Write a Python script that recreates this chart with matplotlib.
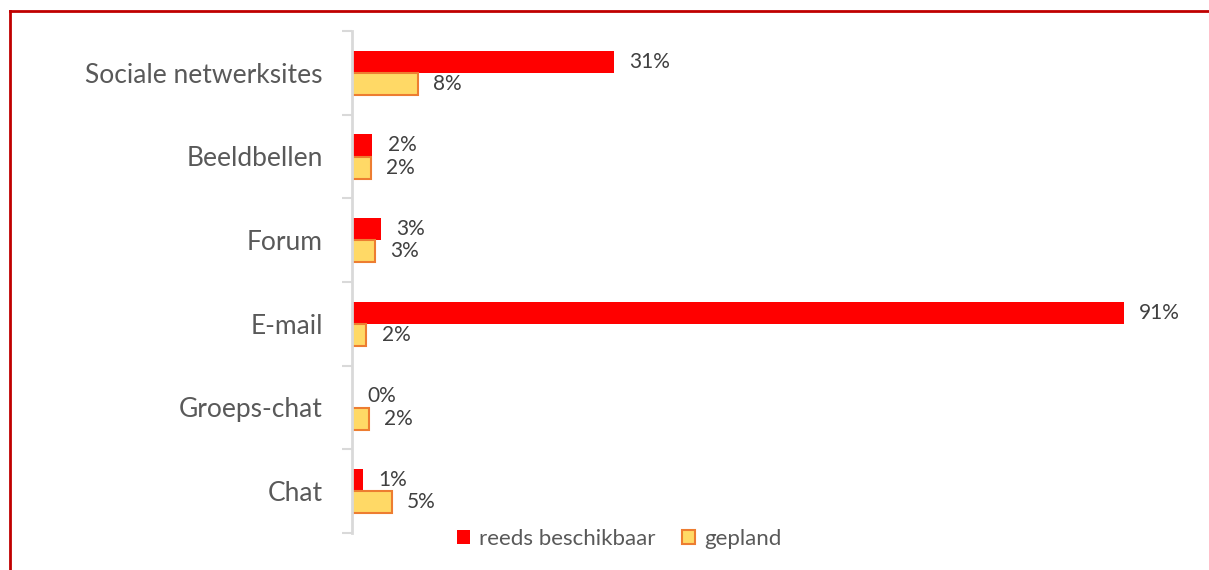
import matplotlib
matplotlib.use("Agg")
from matplotlib import pyplot as plt
from matplotlib.lines import Line2D
import numpy as np

categories = ["Sociale netwerksites", "Beeldbellen", "Forum", "E-mail", "Groeps-chat", "Chat"]
reeds = [30.9, 2.4, 3.4, 91.0, 0.0, 1.3]
gepland = [7.8, 2.2, 2.7, 1.7, 2.0, 4.7]
series_names = ["reeds beschikbaar", "gepland"]

plt.rcParams['font.family'] = ['Lato', 'DejaVu Sans']

fig = plt.figure(figsize=(12.09, 5.70), dpi=100)
ax = fig.add_axes([352/1209, 37/570, 848/1209, 502/570])

y = np.arange(len(categories))
h = 0.263
b1 = ax.barh(y - h/2, reeds, height=h, color="#FF0000", label=series_names[0])
b2 = ax.barh(y + h/2, gepland, height=h, color="#FFD966", edgecolor="#ED7D31",
             linewidth=1.5, label=series_names[1])

for bars, vals in ((b1, reeds), (b2, gepland)):
    for bar, v in zip(bars, vals):
        ax.annotate(f"{v:.0f}%", (bar.get_width(), bar.get_y() + bar.get_height()/2),
                    xytext=(11, 0), textcoords="offset points", ha="left", va="center",
                    fontsize=15, color="#404040")

ax.set_xlim(0, 100)
ax.set_ylim(len(categories) - 0.5, -0.5)
ax.set_yticks(y)
ax.set_yticklabels(categories, fontsize=19, color="#595959")
ax.tick_params(axis="y", length=0, pad=21)
ax.set_yticks(np.arange(-0.5, len(categories)), minor=True)
ax.tick_params(axis="y", which="minor", length=7, width=1.5, color="#D9D9D9")
ax.set_xticks([])
for s in ("top", "right", "bottom"):
    ax.spines[s].set_visible(False)
ax.spines["left"].set_color("#D9D9D9")
ax.spines["left"].set_linewidth(2)

fig.legend(handles=[b1, b2], labels=series_names, loc="center", bbox_to_anchor=(619/1209, 1 - 539/570),
           ncol=2, frameon=False, fontsize=16, labelcolor="#595959",
           handlelength=0.6, handleheight=0.6, handletextpad=0.4, columnspacing=1.2)

# dark red frame on top and left
fig.add_artist(Line2D([10/1209, 1], [1 - 11/570, 1 - 11/570], color="#C00000", lw=2))
fig.add_artist(Line2D([10/1209, 10/1209], [0, 1 - 11/570], color="#C00000", lw=2))

fig.savefig("out.png", dpi=100)
